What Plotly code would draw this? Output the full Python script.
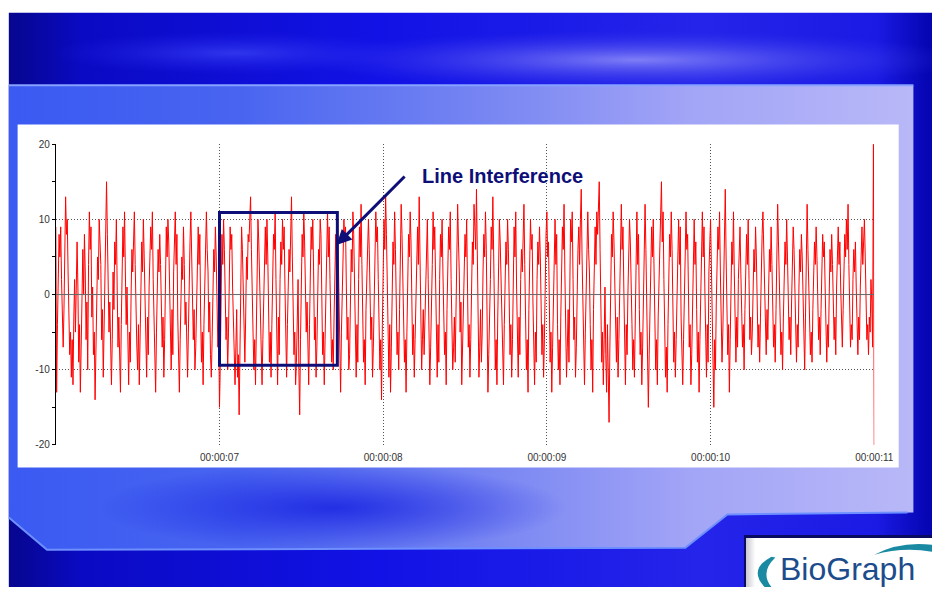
import numpy as np
import plotly.graph_objects as go

# ---------------- data ----------------
START_TIME = 6.0          # seconds, left edge of the trace
SAMPLE_RATE = 200         # samples per second (as drawn)
signal_uV = [
    9, -13, -4, 3, 8, 5, 9, 2, -3, -7,
    -2, 6, 13, 8, 10, 3, -2, -8, -5, -11,
    -6, -12, -3, 2, -5, 4, 7, 1, -9, -4,
    -13, -7, -2, 6, 0, 8, 3, -6, -1, -10,
    4, 11, 6, 9, -3, 1, -8, -5, -14, -9,
    -3, 5, 2, 10, 7, 4, -6, -2, -11, -4,
    6, 11, 15, 8, 2, -5, -1, -9, -12, -6,
    3, -2, 7, 4, 10, 1, -7, -3, -10, -13,
    -4, 2, 9, 5, 11, 3, -4, 1, -8, -12,
    -5, -9, 0, 6, 3, 9, 11, 4, -3, -7,
    -10, -4, -12, -6, 2, 7, 3, 10, 5, -1,
    -6, -11, -3, -8, 1, 4, 9, 6, 11, 2,
    -4, -9, -13, -5, -1, 6, 3, 8, 4, -2,
    -7, -3, -11, -6, 2, 9, 5, 10, 7, 1,
    -5, -10, -2, -8, 3, 6, 11, 4, 8, -3,
    -9, -13, -6, 0, 5, 2, 9, 4, -4, -1,
    -8, -11, -5, 3, 7, 11, 6, 1, -6, -2,
    -10, -7, 0, 5, 9, 4, 8, -3, -9, -5,
    -12, -4, 2, 7, 11, 6, 3, -5, -1, -8,
    -11, -6, 1, 6, 3, 9, 5, -2, -7, -4,
    -15, -9, 2, 8, 4, 10, 6, -1, -6, -3,
    -10, -5, 3, 9, 6, 8, 1, -4, -9, -12,
    -7, -2, -11, -8, -16, -6, 4, 9, 6, 1,
    -4, -9, -3, 5, 2, 8, 7, 11, 13, 6,
    2, -5, -10, -6, -12, -3, 4, 10, 7, 3,
    -3, -8, -12, -6, 1, 6, 9, 4, 10, 5,
    -2, -9, -5, -11, -4, 3, 8, 6, 11, 2,
    -6, -12, -3, -8, 2, 7, 4, 10, 6, 9,
    1, -7, -11, -4, 0, 6, 3, 9, 13, 5,
    -2, -8, -5, -12, -9, -3, 2, -10, -16, -6,
    3, 8, 5, 11, 7, 2, -5, -1, -9, -12,
    -4, 2, 9, 6, 10, 3, -6, -3, -11, -7,
    1, 6, 4, 10, 8, -2, -8, -5, -12, -6,
    0, 7, 11, 5, 9, 2, -4, -9, -6, -10,
    -3, 4, 8, 3, 11, 6, -2, -7, -13, -5,
    -1, 5, 10, 7, 9, 1, -6, -3, -10, -8,
    -2, 6, 3, 11, 8, 0, -7, -11, -4, -9,
    2, 9, 5, 12, 4, -3, -9, -6, -12, -2,
    3, 8, 10, 6, -1, -6, -3, -11, -7, 0,
    5, 11, 7, 9, 2, -5, -10, -6, -14, -4,
    4, 10, 6, 13, 8, 1, -6, -11, -4, -13,
    -7, 2, 7, 4, 11, 6, -3, -8, -5, -10,
    -2, 5, 12, 8, 3, -4, -9, -6, -13, -5,
    3, 8, 5, 11, 7, -1, -8, -4, -11, -6,
    1, 6, 9, 4, 13, 5, -3, -10, -6, -2,
    -8, -4, 3, 7, 10, 2, -5, -12, -7, -3,
    4, 11, 6, 9, 1, -6, -11, -4, -9, 2,
    8, 5, 10, 3, -3, -8, -5, -12, -2, 4,
    9, 6, 11, 2, -4, -10, -7, -3, -9, 1,
    6, 12, 7, 3, -5, -1, -12, -8, -4, 3,
    8, 5, 10, -2, -7, -4, -11, -6, 2, 7,
    4, 12, 9, 6, 14, 3, -4, -11, -7, -2,
    -9, -5, 3, 8, 5, 11, 6, -3, -13, -8,
    -4, 2, 9, 6, 13, 4, -2, -10, -6, -12,
    -3, 5, 10, 7, 2, -5, -9, -12, -4, 1,
    7, 4, 10, 6, -2, -8, -4, -11, -6, 3,
    9, 5, 11, 1, -6, -11, -3, -8, 2, 6,
    3, 9, 12, 4, -4, -10, -6, -13, -2, 5,
    10, 6, 8, -1, -7, -12, -5, -9, 2, 7,
    4, 9, 5, -3, -8, -4, -11, -6, 3, 8,
    11, 5, 7, -2, -9, -5, -13, -7, 1, 6,
    10, 4, 8, -4, -10, -6, -12, -3, 5, 9,
    6, 12, 3, -5, -11, -7, -2, -9, 4, 10,
    7, 11, 2, -6, -3, -11, -7, 1, 6, 9,
    4, 10, 14, 5, -3, -8, -12, -5, 2, 8,
    11, 6, 3, -4, -10, -6, -13, -2, 5, 9,
    4, 11, 8, 12, 15, 6, -2, -9, -5, -12,
    -6, 1, -8, -13, -4, -10, -17, -7, 3, 8,
    5, 11, 7, 2, -5, -9, -3, -11, -6, 2,
    8, 12, 6, 9, 1, -7, -12, -4, -8, 0,
    5, 10, 7, 3, -4, -10, -6, -11, -2, 6,
    11, 4, 8, -2, -8, -5, -12, -7, 1, 7,
    12, 6, -3, -9, -15, -8, -2, 4, 9, 5,
    10, 3, -4, -10, -6, -12, -3, 2, 8, 11,
    15, 7, 11, 2, -5, -11, -7, -13, -4, 3,
    8, 5, 11, 6, -2, -9, -5, -11, -6, 1,
    7, 10, 4, 9, -3, -8, -12, -6, -2, 5,
    11, 6, 8, 1, -7, -4, -12, -8, 0, 6,
    10, 4, 7, -2, -9, -5, -13, -6, 2, 8,
    11, 5, 9, 1, -6, -11, -4, -9, 3, 7,
    10, 4, -3, -8, -15, -6, -10, -1, 5, 9,
    6, 11, 3, -4, -9, -5, 2, 8, 14, 5,
    -2, -8, -4, -13, -6, 1, 7, 4, 11, 3,
    -5, -9, -3, -7, 2, 6, 9, 3, -2, -7,
    -4, -10, -2, 5, 8, 4, 10, 2, -6, -3,
    -8, -5, 1, 6, 3, 9, 5, -1, -7, -4,
    -9, -3, 4, 8, 11, 5, 2, -5, -8, -2,
    -6, 1, 6, 3, 9, 4, -3, -7, -4, -9,
    -2, 5, 12, 7, 3, -4, -8, -5, -10, -3,
    2, 7, 4, 10, 5, -2, -6, -3, -8, -1,
    4, 9, 6, 2, -5, -9, -4, -7, 1, 6,
    3, 8, 5, -1, -6, -10, -3, 4, 12, 6,
    2, -4, -8, -5, -9, -2, 3, 7, 4, 9,
    5, -1, -6, -3, -8, -2, 4, 8, 5, 7,
    1, -5, -9, -4, -7, 0, 6, 3, 8, 4,
    -2, -6, -3, -8, 1, 5, 9, 4, 7, 1,
    -4, -7, -2, 3, 8, 5, 10, 6, 12, 4,
    -3, -7, -4, -6, 2, 6, 3, 7, 1, -5,
    -8, -3, -6, 1, 5, 9, 4, 8, 10, 5,
    -2, -6, -4, -8, -3, -5, 2, -1, -7, 20,
    -20,
]
x_tick_values = [7, 8, 9, 10, 11]
x_tick_labels = ["00:00:07", "00:00:08", "00:00:09", "00:00:10", "00:00:11"]
y_tick_values = [-20, -10, 0, 10, 20]
y_tick_labels = ["-20", "-10", "0", "10", "20"]
callout_text = "Line Interference"
logo_text = "BioGraph"

time_s = START_TIME + np.arange(len(signal_uV)) / SAMPLE_RATE

# ---------------- figure ----------------
W, H = 952, 593
fig = go.Figure()

def poly(xs, ys, fill=None, grad=None, line=None):
    kw = dict(x=xs, y=ys, mode="lines", fill="toself", hoverinfo="skip",
              showlegend=False, xaxis="x", yaxis="y",
              line=line or dict(width=0, color="rgba(0,0,0,0)"))
    if grad:
        kw["fillgradient"] = grad
    else:
        kw["fillcolor"] = fill
    fig.add_trace(go.Scatter(**kw))

def seg(xs, ys, color, width):
    fig.add_trace(go.Scatter(x=xs, y=ys, mode="lines", hoverinfo="skip",
                             showlegend=False, xaxis="x", yaxis="y",
                             line=dict(color=color, width=width)))

th = np.linspace(0, 2 * np.pi, 72)

# slide base (dark blue)
poly([9, 952, 952, 9, 9], [7, 7, 593, 593, 7],
     grad=dict(type="horizontal", colorscale=[
         [0, "#06068e"], [0.08, "#0a0ac4"], [0.4, "#1212e6"],
         [0.75, "#2424ea"], [0.94, "#1a1ae4"], [1, "#0404b0"]]))
# soft glows in the top band
poly(list(650 + 340 * np.cos(th)), list(55 + 30 * np.sin(th)),
     grad=dict(type="radial", colorscale=[
         [0, "rgba(150,150,250,0.8)"], [1, "rgba(60,60,240,0)"]]))
poly(list(240 + 190 * np.cos(th)), list(48 + 22 * np.sin(th)),
     grad=dict(type="radial", colorscale=[
         [0, "rgba(70,80,250,0.6)"], [1, "rgba(40,40,240,0)"]]))
# light panel
panel_x = [9, 933, 933, 743, 700, 48, 9, 9]
panel_y = [81, 81, 517, 519, 553, 555, 522, 81]
poly(panel_x, panel_y,
     grad=dict(type="horizontal", colorscale=[
         [0, "#3a5af2"], [0.25, "#4864f0"], [0.5, "#7282f2"],
         [0.75, "#a2a4f6"], [1, "#b8b8f8"]]))
# darker streak in the lower part of the panel
poly(list(340 + 240 * np.cos(th)), list(512 + 44 * np.sin(th)),
     grad=dict(type="radial", colorscale=[
         [0, "rgba(20,30,225,0.8)"], [1, "rgba(20,30,225,0)"]]))
# panel edge highlights
seg([9, 933], [81, 81], "#86a2ff", 2)
seg([9, 48, 700, 743, 927], [522, 555, 553, 519, 517], "#6e90ff", 2)
# white chart panel
poly([18, 918, 918, 18, 18], [121, 121, 471, 471, 121], fill="#ffffff")
# logo box (with a soft grey rim and dark top shadow)
poly([760, 952, 952, 760, 760], [540, 540, 593, 593, 540], fill="#0a0a60")
poly([762, 952, 952, 762, 762], [543, 543, 593, 593, 543],
     grad=dict(type="horizontal", colorscale=[
         [0, "#c8c8d0"], [0.05, "#ffffff"], [1, "#ffffff"]]))

# signal
fig.add_trace(go.Scatter(
    x=time_s, y=signal_uV, mode="lines", xaxis="x2", yaxis="y2",
    line=dict(color="#ff0000", width=1), hoverinfo="skip", showlegend=False))

axis_font = dict(family="Liberation Sans, Arial, sans-serif", size=10, color="#333333")
navy = "#0e0e78"
teal = "#1a8aa2"

fig.update_layout(
    width=W, height=H, margin=dict(l=0, r=0, t=0, b=0),
    paper_bgcolor="#ffffff", plot_bgcolor="rgba(0,0,0,0)",
    hovermode=False, showlegend=False,
    xaxis=dict(range=[0, W], domain=[0, 1], visible=False, fixedrange=True),
    yaxis=dict(range=[H, 0], domain=[0, 1], visible=False, fixedrange=True),
    xaxis2=dict(domain=[57 / W, 893 / W], range=[6.0, 11.0], anchor="y2",
                tickvals=x_tick_values, ticktext=x_tick_labels,
                showgrid=True, gridcolor="#555555", griddash="1px,2px", gridwidth=1,
                zeroline=False, showline=False, ticks="outside", ticklen=3,
                tickcolor="rgba(0,0,0,0)", tickfont=axis_font, fixedrange=True),
    yaxis2=dict(domain=[(H - 448) / H, (H - 141) / H], range=[-20, 20], anchor="x2",
                tickvals=y_tick_values, ticktext=y_tick_labels,
                showgrid=True, gridcolor="#555555", griddash="1px,2px", gridwidth=1,
                zeroline=False, showline=True, linecolor="#000000", linewidth=1,
                ticks="outside", ticklen=3, tickcolor="#000000",
                minor=dict(dtick=5, tick0=0, ticks="outside", ticklen=3,
                           tickcolor="#000000", showgrid=False),
                tickfont=axis_font, fixedrange=True),
    shapes=[
        dict(type="line", xref="x2", yref="y2", x0=6.0, x1=11.0, y0=0, y1=0,
             line=dict(color="#6a6a6a", width=1), layer="above"),
        dict(type="rect", xref="x2", yref="y2", x0=7.0, x1=7.72, y0=-9.4, y1=10.9,
             line=dict(color=navy, width=3), layer="above"),
        # logo swoosh: left crescent and upper-right arc
        dict(type="path", xref="x", yref="y", layer="above",
             path="M 788,562 Q 764,575 781,593 L 788,593 Q 776,578 792,563 Z",
             fillcolor=teal, line=dict(width=0)),
        dict(type="path", xref="x", yref="y", layer="above",
             path="M 893,560 Q 920,546 952,550 L 952,557 Q 922,552 893,560 Z",
             fillcolor=teal, line=dict(width=0)),
    ],
    annotations=[
        dict(xref="x2", yref="y2", x=7.715, y=6.6, axref="x2", ayref="y2",
             ax=8.14, ay=15.9, text="", showarrow=True, arrowhead=2,
             arrowsize=1, arrowwidth=3, arrowcolor=navy),
        dict(xref="x", yref="y", x=513, y=174, text="<b>" + callout_text + "</b>",
             showarrow=False,
             font=dict(family="Liberation Sans, Arial, sans-serif", size=20, color=navy)),
        dict(xref="x", yref="y", x=866, y=575, text=logo_text, showarrow=False,
             font=dict(family="Liberation Sans, Arial, sans-serif", size=32,
                       color="#1c4c8c")),
        dict(xref="x", yref="y", x=880, y=594, yanchor="bottom", text="INFINITI",
             showarrow=False,
             font=dict(family="Liberation Sans, Arial", size=7, color="#1c4c8c")),
    ],
)

fig.write_html("out.html", config={"displayModeBar": False, "staticPlot": True},
               post_script="document.body.style.margin='0';"
                           "document.body.style.overflow='hidden';")
